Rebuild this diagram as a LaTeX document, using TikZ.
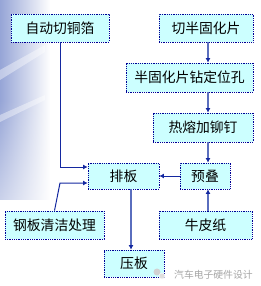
\documentclass[tikz,border=0pt]{standalone}
\usepackage{fontspec}
\newfontfamily\cjk{Noto Sans CJK SC}
\usetikzlibrary{arrows.meta,fadings}
\definecolor{boxfill}{RGB}{204,255,255}
\definecolor{boxline}{RGB}{0,0,150}
\definecolor{darkln}{RGB}{20,40,160}
\definecolor{lightln}{RGB}{90,110,190}
\definecolor{bgblue}{RGB}{150,165,215}
\begin{document}
\begin{tikzpicture}[x=1pt,y=-1pt,
  stepbox/.style={draw=boxline,densely dotted,line width=0.8pt,fill=boxfill,inner sep=0pt,
    font=\cjk\fontsize{13.8}{14}\selectfont,text=black},
  conn/.style={draw=darkln,line width=1pt,-{Latex[length=4.5pt,width=5pt]}},
  connl/.style={draw=lightln,line width=1.2pt,-{Latex[length=4.5pt,width=5pt,color=darkln]}}]
\useasboundingbox (0,0) rectangle (260,286);
\fill[white] (0,0) rectangle (260,286);
% background gradient
\fill[bgblue,path fading=east] (0,0) rectangle (50,200);
\fill[white,opacity=0.5,path fading=north] (0,100) rectangle (50,200);
\fill[white,opacity=0.4] (0,70) -- (45,45) -- (45,52) -- (0,80) -- cycle;
\fill[white,opacity=0.4] (0,115) -- (45,95) -- (45,100) -- (0,122) -- cycle;
% boxes
\node[stepbox,minimum width=98pt,minimum height=28pt] (a) at (60,28) {自动切铜箔};
\node[stepbox,minimum width=94pt,minimum height=28pt] (b) at (206,28) {切半固化片};
\node[stepbox,minimum width=127pt,minimum height=29pt] (c) at (189.5,77.5) {半固化片钻定位孔};
\node[stepbox,minimum width=100pt,minimum height=29pt] (d) at (203,127.5) {热熔加铆钉};
\node[stepbox,minimum width=71pt,minimum height=26pt] (e) at (123.5,176) {排板};
\node[stepbox,minimum width=50pt,minimum height=26pt] (f) at (205,176) {预叠};
\node[stepbox,minimum width=99pt,minimum height=28pt] (g) at (54.5,225) {钢板清洁处理};
\node[stepbox,minimum width=93pt,minimum height=28pt] (h) at (205.5,225) {牛皮纸};
\node[stepbox,minimum width=60pt,minimum height=27pt] (i) at (134,263.5) {压板};
% connectors
\coordinate (a1) at (60,167);
\coordinate (g1) at (60,183);
\draw[conn] (a.south) -- (a1) -- (a1 -| e.west);
\draw[conn] (g.north) -- (g1) -- (g1 -| e.west);
\draw[connl] (b.south -| 208,0) -- (c.north -| 208,0);
\draw[connl] (c.south -| 208,0) -- (d.north -| 208,0);
\draw[connl] (d.south -| 208,0) -- (f.north -| 208,0);
\draw[connl] (h.north -| 208,0) -- (f.south -| 208,0);
\draw[conn] (f.west) -- (e.east);
\draw[connl] (e.south -| 131,0) -- (i.north -| 131,0);
% watermark
\node[circle,fill=gray!35,minimum size=7pt,inner sep=0pt] (w1) at (157,272) {};
\node[circle,fill=gray!25,draw=white,minimum size=6pt,inner sep=0pt] (w2) at (162,276) {};
\node[font=\cjk\fontsize{9.8}{10}\selectfont,text=gray!70,anchor=west,inner sep=0pt] (wm) at (174,275) {汽车电子硬件设计};
\end{tikzpicture}
\end{document}
